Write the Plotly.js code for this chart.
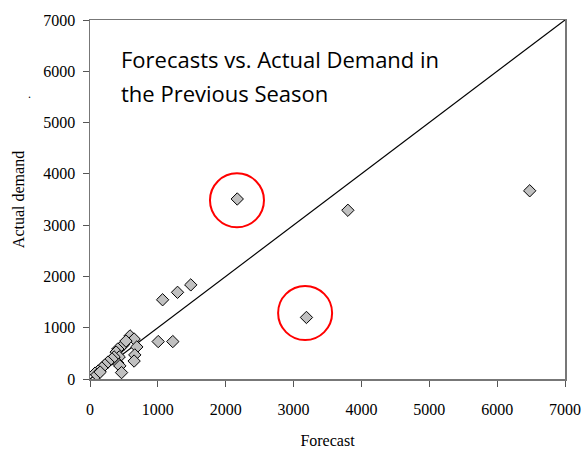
<!DOCTYPE html>
<html>
<head>
<meta charset="utf-8">
<script src="https://cdn.plot.ly/plotly-3.0.1.min.js"></script>
<style>html,body{margin:0;padding:0;background:#fff;}#chart{width:584px;height:450px;}</style>
</head>
<body>
<div id="chart"></div>
<script>
// Forecast vs actual demand
var forecast = [2170, 3190, 3800, 6480, 1070, 1290, 1485, 1005, 1220,
  590, 650, 690, 660, 650, 500, 465, 410, 385, 430, 410, 440, 465, 355, 325, 265, 220, 175, 120, 75, 100, 150, 530];
var actual = [3510, 1200, 3290, 3670, 1545, 1690, 1835, 730, 730,
  840, 780, 625, 470, 350, 680, 635, 585, 525, 430, 310, 255, 125, 430, 390, 330, 275, 215, 155, 115, 80, 135, 740];
var diagX = [0, 7000];
var diagY = [0, 7000];
var circleCenters = [[2166, 3485], [3170, 1287]];
var tickVals = [0, 1000, 2000, 3000, 4000, 5000, 6000, 7000];
var titleLines = ["Forecasts vs. Actual Demand in", "the Previous Season"];

var serif = "Liberation Serif, Times New Roman, serif";
var traces = [
  {x: diagX, y: diagY, mode: "lines", type: "scatter", line: {color: "#000", width: 1.2}, hoverinfo: "skip"},
  {x: forecast, y: actual, mode: "markers", type: "scatter",
   marker: {symbol: "diamond", size: 9.5, color: "#c0c0c0", line: {color: "#000", width: 1}}}
];
var shapes = circleCenters.map(function(c){
  return {type: "circle", xref: "x", yref: "y", xsizemode: "pixel", ysizemode: "pixel",
    xanchor: c[0], yanchor: c[1], x0: -27, x1: 27, y0: -27, y1: 27,
    line: {color: "#ff0000", width: 2}};
});
var titleY = [0.891, 0.797];
var annotations = titleLines.map(function(t, i){
  return {text: t, xref: "paper", yref: "paper", x: 0.062, y: titleY[i], xanchor: "left", yanchor: "middle",
    align: "left", showarrow: false, font: {family: "Open Sans, sans-serif", size: 22, color: "#000"}};
});
annotations.push({text: ".", xref: "paper", yref: "paper", x: -0.135, y: 0.82, showarrow: false,
  font: {family: serif, size: 12, color: "#000"}});
var layout = {
  width: 584, height: 450,
  margin: {l: 90, r: 19, t: 20, b: 71},
  paper_bgcolor: "#fff", plot_bgcolor: "#fff",
  showlegend: false,
  xaxis: {range: [0, 7000], tickvals: tickVals, ticks: "outside", ticklen: 6, tickcolor: "#555",
    showgrid: false, zeroline: false, showline: true, linecolor: "#777", linewidth: 1.5, mirror: true,
    ticklabelstandoff: 9,
    tickfont: {family: serif, size: 16, color: "#000"},
    title: {text: "Forecast", font: {family: serif, size: 16, color: "#000"}, standoff: 18}},
  yaxis: {range: [0, 7000], tickvals: tickVals, ticks: "outside", ticklen: 6, tickcolor: "#555",
    showgrid: false, zeroline: false, showline: true, linecolor: "#777", linewidth: 1.5, mirror: true,
    ticklabelstandoff: 4,
    tickfont: {family: serif, size: 16, color: "#000"},
    title: {text: "Actual demand", font: {family: serif, size: 16, color: "#000"}, standoff: 14}},
  shapes: shapes,
  annotations: annotations
};
Plotly.newPlot("chart", traces, layout, {displayModeBar: false, staticPlot: true});
</script>
</body>
</html>
